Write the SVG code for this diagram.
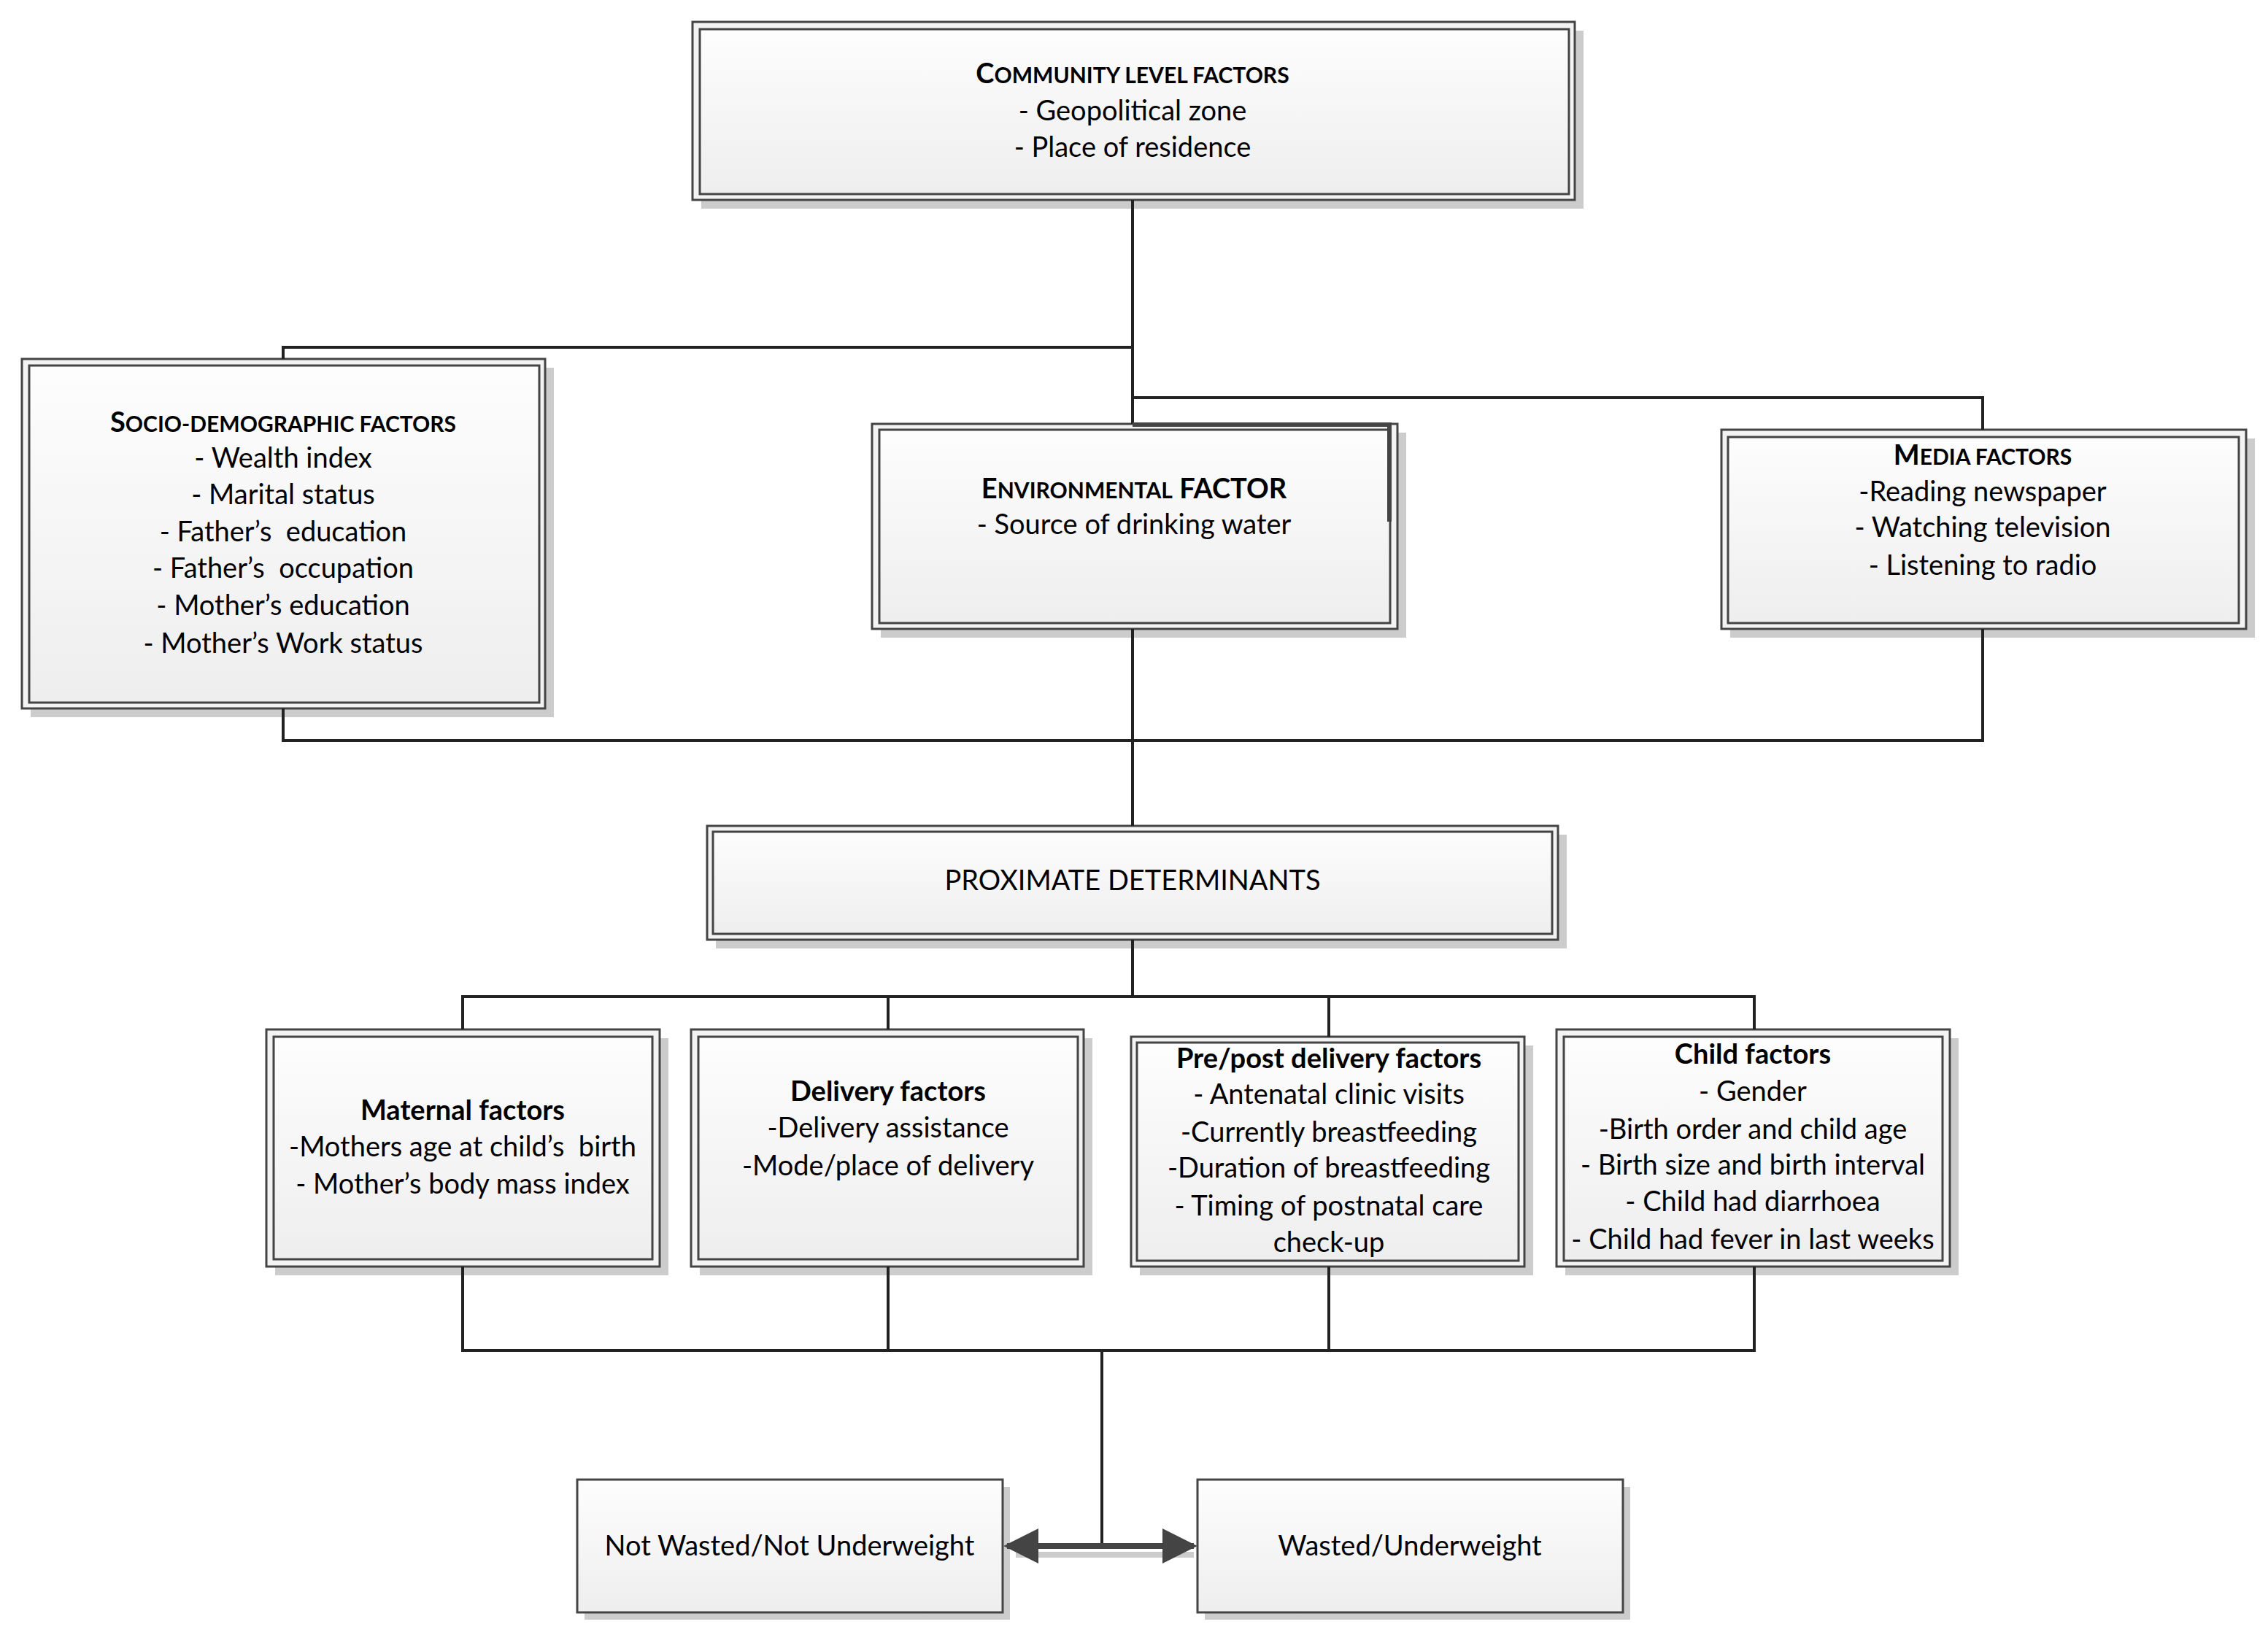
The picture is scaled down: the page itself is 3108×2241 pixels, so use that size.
<svg xmlns="http://www.w3.org/2000/svg" width="3108" height="2241" viewBox="0 0 3108 2241">
<defs>
<linearGradient id="g" x1="0" y1="0" x2="0" y2="1">
<stop offset="0" stop-color="#fdfdfd"/>
<stop offset="1" stop-color="#eeeeee"/>
</linearGradient>
<marker id="ah" viewBox="0 0 10 10" refX="9" refY="5" markerWidth="6" markerHeight="7.5" markerUnits="strokeWidth" orient="auto-start-reverse">
<path d="M0,0 L10,5 L0,10 z" fill="#444444"/>
</marker>
</defs>
<style>
.sh{fill:#cccccc}
.ob{fill:#f3f3f3;stroke:#444444;stroke-width:3}
.ib{fill:url(#g);stroke:#444444;stroke-width:3}
.t{font-family:Lato,"Liberation Sans",sans-serif;font-size:38px;fill:#000;text-anchor:middle;white-space:pre}
.b{font-weight:bold}
.sc{font-size:30px}
.c{fill:none;stroke:#222222;stroke-width:4}
</style>
<rect width="3108" height="2241" fill="#ffffff"/>

<g id="community">
<rect class="sh" x="961" y="42" width="1209" height="244"/>
<rect class="ob" x="949" y="30" width="1209" height="244"/>
<rect class="ib" x="959" y="40" width="1191" height="226"/>
<text class="t b" x="1552" y="114">C<tspan class="sc">OMMUNITY LEVEL FACTORS</tspan></text>
<text class="t" x="1552" y="165">- Geopolitical zone</text>
<text class="t" x="1552" y="215">- Place of residence</text>
</g>

<g id="socio">
<rect class="sh" x="42" y="504" width="717" height="479"/>
<rect class="ob" x="30" y="492" width="717" height="479"/>
<rect class="ib" x="40" y="501" width="699" height="462"/>
<text class="t b" x="388" y="592">S<tspan class="sc">OCIO-DEMOGRAPHIC FACTORS</tspan></text>
<text class="t" x="388" y="641">- Wealth index</text>
<text class="t" x="388" y="691">- Marital status</text>
<text class="t" x="388" y="742" xml:space="preserve">- Father’s  education</text>
<text class="t" x="388" y="792" xml:space="preserve">- Father’s  occupation</text>
<text class="t" x="388" y="843">- Mother’s education</text>
<text class="t" x="388" y="895">- Mother’s Work status</text>
</g>

<g id="environmental">
<rect class="sh" x="1207" y="593" width="720" height="281"/>
<rect class="ob" x="1195" y="581" width="720" height="281"/>
<rect class="ib" x="1205" y="589" width="700" height="265"/>
<text class="t b" x="1554" y="683">E<tspan class="sc">NVIRONMENTAL</tspan> FACTOR</text>
<text class="t" x="1554" y="732">- Source of drinking water</text>
</g>

<g id="media">
<rect class="sh" x="2371" y="601" width="719" height="273"/>
<rect class="ob" x="2359" y="589" width="719" height="273"/>
<rect class="ib" x="2368" y="599" width="700" height="255"/>
<text class="t b" x="2717" y="637">M<tspan class="sc">EDIA FACTORS</tspan></text>
<text class="t" x="2717" y="687">-Reading newspaper</text>
<text class="t" x="2717" y="736">- Watching television</text>
<text class="t" x="2717" y="788">- Listening to radio</text>
</g>

<g id="proximate">
<rect class="sh" x="981" y="1144" width="1166" height="156"/>
<rect class="ob" x="969" y="1132" width="1166" height="156"/>
<rect class="ib" x="977" y="1140" width="1150" height="140"/>
<text class="t" x="1552" y="1220">PROXIMATE DETERMINANTS</text>
</g>

<g id="maternal">
<rect class="sh" x="377" y="1423" width="539" height="325"/>
<rect class="ob" x="365" y="1411" width="539" height="325"/>
<rect class="ib" x="375" y="1421" width="519" height="305"/>
<text class="t b" x="634" y="1535">Maternal factors</text>
<text class="t" x="634" y="1585" xml:space="preserve">-Mothers age at child’s  birth</text>
<text class="t" x="634" y="1636">- Mother’s body mass index</text>
</g>

<g id="delivery">
<rect class="sh" x="959" y="1423" width="538" height="325"/>
<rect class="ob" x="947" y="1411" width="538" height="325"/>
<rect class="ib" x="957" y="1421" width="520" height="305"/>
<text class="t b" x="1217" y="1509">Delivery factors</text>
<text class="t" x="1217" y="1559">-Delivery assistance</text>
<text class="t" x="1217" y="1611">-Mode/place of delivery</text>
</g>

<g id="prepost">
<rect class="sh" x="1562" y="1433" width="539" height="315"/>
<rect class="ob" x="1550" y="1421" width="539" height="315"/>
<rect class="ib" x="1558" y="1429" width="523" height="299"/>
<text class="t b" x="1821" y="1464">Pre/post delivery factors</text>
<text class="t" x="1821" y="1513">- Antenatal clinic visits</text>
<text class="t" x="1821" y="1565">-Currently breastfeeding</text>
<text class="t" x="1821" y="1614">-Duration of breastfeeding</text>
<text class="t" x="1821" y="1666">- Timing of postnatal care</text>
<text class="t" x="1821" y="1716">check-up</text>
</g>

<g id="child">
<rect class="sh" x="2145" y="1423" width="539" height="325"/>
<rect class="ob" x="2133" y="1411" width="539" height="325"/>
<rect class="ib" x="2143" y="1421" width="519" height="307"/>
<text class="t b" x="2402" y="1458">Child factors</text>
<text class="t" x="2402" y="1509">- Gender</text>
<text class="t" x="2402" y="1561">-Birth order and child age</text>
<text class="t" x="2402" y="1610">- Birth size and birth interval</text>
<text class="t" x="2402" y="1660">- Child had diarrhoea</text>
<text class="t" x="2402" y="1712">- Child had fever in last weeks</text>
</g>

<g id="notwasted">
<rect class="sh" x="801" y="2038" width="583" height="182"/>
<rect class="ib" x="791" y="2028" width="583" height="182"/>
<text class="t" x="1082" y="2132">Not Wasted/Not Underweight</text>
</g>

<g id="wasted">
<rect class="sh" x="1651" y="2038" width="583" height="182"/>
<rect class="ib" x="1641" y="2028" width="583" height="182"/>
<text class="t" x="1932" y="2132">Wasted/Underweight</text>
</g>

<g id="connectors">
<polyline class="c" points="1552,274 1552,581"/>
<polyline class="c" points="388,492 388,476 1552,476"/>
<polyline class="c" points="1552,545 2717,545 2717,589"/>
<polyline class="c" points="1552,582 1904,582 1904,715" style="stroke:#444444;stroke-width:6"/>
<polyline class="c" points="388,971 388,1015 2717,1015 2717,862"/>
<polyline class="c" points="1552,862 1552,1132"/>
<polyline class="c" points="1552,1288 1552,1366"/>
<polyline class="c" points="634,1411 634,1366 2404,1366 2404,1411"/>
<polyline class="c" points="1217,1366 1217,1411"/>
<polyline class="c" points="1821,1366 1821,1421"/>
<polyline class="c" points="634,1736 634,1851 2404,1851 2404,1736"/>
<polyline class="c" points="1217,1736 1217,1851"/>
<polyline class="c" points="1821,1736 1821,1851"/>
<polyline class="c" points="1510,1851 1510,2119"/>
<line x1="1392" y1="2131" x2="1636" y2="2131" stroke="#cccccc" stroke-width="8"/>
<line x1="1380" y1="2119" x2="1636" y2="2119" stroke="#444444" stroke-width="8" marker-start="url(#ah)" marker-end="url(#ah)"/>
</g>
</svg>
